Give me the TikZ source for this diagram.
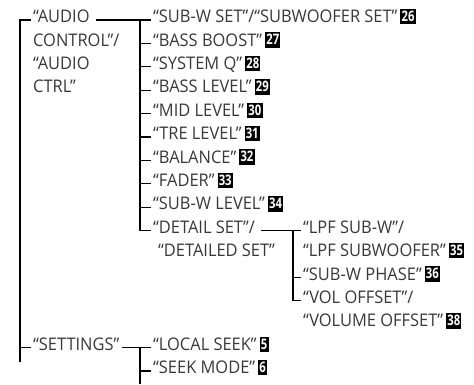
\documentclass[tikz,border=0pt]{standalone}
\usepackage{fontspec}
\setmainfont{Open Sans}[FakeStretch=0.945]
\newfontfamily\badgefont{Open Sans}[FakeStretch=0.78]
\newcommand\badge[1]{\hspace{3pt}{\setlength\fboxsep{1.2pt}\colorbox{black}{\rule[-0.5pt]{0pt}{13pt}\raisebox{1.2pt}{\color{white}\badgefont\bfseries\fontsize{14.5}{14.5}\selectfont #1}}}}
\newcommand\lines[1]{\begin{tabular}[t]{@{}l@{}}#1\end{tabular}}

\begin{document}
\begin{tikzpicture}[
    x=1pt, y=-1pt,
    item/.style={anchor=mid west, inner xsep=2pt, inner ysep=0pt, text=black!78,
                 font=\fontsize{17.4}{23.4}\selectfont},
    link/.style={line width=1.1pt}
]
\useasboundingbox (0,0) rectangle (474,384);

\node[item] (audio) at (31,20) {“AUDIO};
\node[item] (audiob) at (31,43.4) {\lines{CONTROL”/\\“AUDIO\\CTRL”}};

\node[item] (sub) at (151,20) {“SUB-W SET”/“SUBWOOFER SET”\badge{26}};
\node[item] (bb) at (151,43.4) {“BASS BOOST”\badge{27}};
\node[item] (sq) at (151,66.8) {“SYSTEM Q”\badge{28}};
\node[item] (bl) at (151,90.2) {“BASS LEVEL”\badge{29}};
\node[item] (ml) at (151,113.6) {“MID LEVEL”\badge{30}};
\node[item] (tl) at (151,137) {“TRE LEVEL”\badge{31}};
\node[item] (bal) at (151,160.4) {“BALANCE”\badge{32}};
\node[item] (fad) at (151,183.8) {“FADER”\badge{33}};
\node[item] (swl) at (151,207.2) {“SUB-W LEVEL”\badge{34}};
\node[item] (ds) at (151,230.6) {“DETAIL SET”/};
\node[item] (dsb) at (156,254) {“DETAILED SET”};

\node[item] (lpf) at (301,230.6) {\lines{“LPF SUB-W”/\\“LPF SUBWOOFER”\badge{35}}};
\node[item] (ph) at (301,277.4) {“SUB-W PHASE”\badge{36}};
\node[item] (vol) at (301,300.8) {\lines{“VOL OFFSET”/\\“VOLUME OFFSET”\badge{38}}};

\node[item] (set) at (31,347.6) {“SETTINGS”};
\node[item] (ls) at (151,347.6) {“LOCAL SEEK”\badge{5}};
\node[item] (sm) at (151,371) {“SEEK MODE”\badge{6}};

\coordinate (root) at (20,362);
\coordinate (j1) at (140,20);
\coordinate (j2) at (293,230.6);
\coordinate (j3) at (140,347.6);
\coordinate (tail) at (140,384);

\draw[link] (audio.mid west) -| (root);
\draw[link, shorten <=4pt] (audio.mid east) -- (sub.mid west);
\draw[link] (j1) |- (ds.mid west);
\foreach \n in {bb,sq,bl,ml,tl,bal,fad,swl}
    \draw[link] (j1 |- \n.mid west) -- (\n.mid west);
\draw[link, shorten <=4pt] (ds.mid east) -- (lpf.mid west);
\draw[link] (j2) |- (vol.mid west);
\draw[link] (j2 |- ph.mid west) -- (ph.mid west);
\draw[link] (root |- set.mid west) -- (set.mid west);
\draw[link] (set.mid east) -- (ls.mid west);
\draw[link] (j3) -- (tail);
\draw[link] (j3 |- sm.mid west) -- (sm.mid west);
\end{tikzpicture}
\end{document}
